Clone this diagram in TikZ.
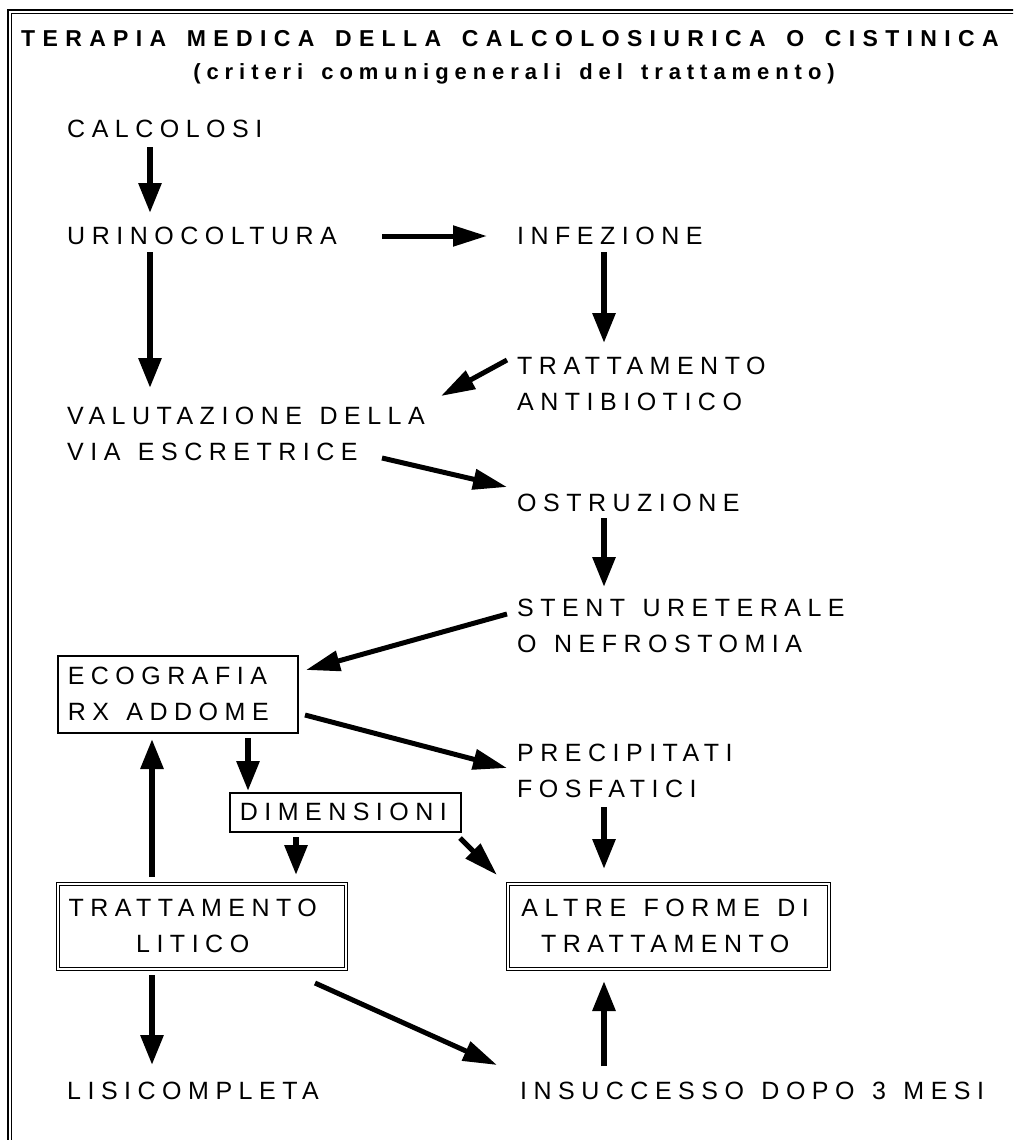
\documentclass[tikz,border=0pt]{standalone}
\usepackage{fontspec}
\setmainfont{Liberation Sans}
\newfontfamily\bodyfont[LetterSpace=26,WordSpace=1.3]{Liberation Sans}
\newfontfamily\headfont[LetterSpace=32,WordSpace=1.5]{Liberation Sans}
\newfontfamily\subheadfont[LetterSpace=27,WordSpace=1.5]{Liberation Sans}
\usetikzlibrary{arrows.meta,calc}

\begin{document}
\begin{tikzpicture}[x=1pt,y=-1pt,
  lbl/.style={inner sep=0pt, anchor=north west, align=left,
    font=\bodyfont\fontsize{25pt}{36pt}\selectfont},
  head/.style={inner sep=0pt, anchor=base,
    font=\headfont\bfseries\fontsize{23pt}{30pt}\selectfont},
  subhead/.style={head, font=\subheadfont\bfseries\fontsize{22pt}{30pt}\selectfont},
  box/.style={lbl, draw, line width=1.5pt, inner ysep=0pt, inner xsep=10pt},
  dbox/.style={lbl, draw, double, line width=1.4pt, double distance=1.6pt,
    inner sep=0pt, align=center},
  arr/.style={line width=6pt, -{Triangle[length=30pt,width=22pt]}},
  arrd/.style={line width=5pt, -{Triangle[length=34pt,width=20pt]}}
]
\useasboundingbox (0,0) rectangle (1013,1140);
\clip (0,0) rectangle (1013,1140);
\fill[white] (0,0) rectangle (1013,1140);

% page frame (double rule)
\draw[line width=2pt] (7.7,10) rectangle (1060,1190);
\draw[line width=1pt] (11.5,13.3) rectangle (1060,1190);

% heading
\node[head] (title) at (510,47) {TERAPIA MEDICA DELLA CALCOLOSIURICA O CISTINICA};
\node[subhead] (subtitle) at (514,80) {(criteri comunigenerali del trattamento)};

% flow steps
\node[lbl] (calc) at (67,120) {CALCOLOSI};
\node[lbl] (urino) at (67,227) {URINOCOLTURA};
\node[lbl] (infez) at (517,227) {INFEZIONE};
\node[lbl] (antib) at (517,357) {TRATTAMENTO\\ANTIBIOTICO};
\node[lbl] (valut) at (67,407) {VALUTAZIONE DELLA\\VIA ESCRETRICE};
\node[lbl] (ostr) at (517,494) {OSTRUZIONE};
\node[lbl] (stent) at (517,599) {STENT URETERALE\\O NEFROSTOMIA};
\node[box, minimum height=77pt] (eco) at (57,655)
      {\makebox[220pt][l]{ECOGRAFIA}\\RX ADDOME};
\node[lbl] (precip) at (517,744) {PRECIPITATI\\FOSFATICI};
\node[box, minimum height=39pt] (dim) at (229,792)
      {\makebox[211pt][l]{DIMENSIONI}};
\node[dbox, minimum width=288pt, minimum height=85pt] (litico) at (57,883)
      {TRATTAMENTO\hspace*{18pt}\\LITICO\hspace*{18pt}};
\node[dbox, minimum width=321pt, minimum height=85pt] (altre) at (507,883)
      {ALTRE FORME DI\hspace*{6pt}\\TRATTAMENTO\hspace*{6pt}};
\node[lbl] (lisi) at (67,1082) {LISICOMPLETA};
\node[lbl] (insucc) at (520,1082) {INSUCCESSO DOPO 3 MESI};

% connectors
\draw[arr]  ([shift={(83,27)}]calc.north west) -- ([shift={(83,-14)}]urino.north west);
\draw[arrd] ([shift={(315,9)}]urino.north west) -- ([shift={(-30,9)}]infez.north west);
\draw[arr]  ([shift={(87,25)}]infez.north west) -- ([shift={(87,-14)}]antib.north west);
\draw[arrd] ([shift={(-10,3)}]antib.north west) -- ([shift={(374,-11)}]valut.north west);
\draw[arr]  ([shift={(83,25)}]urino.north west) -- ([shift={(83,-19)}]valut.north west);
\draw[arrd] ([shift={(315,51)}]valut.north west) -- ([shift={(-10,-7)}]ostr.north west);
\draw[arr]  ([shift={(87,24)}]ostr.north west) -- ([shift={(87,-12)}]stent.north west);
\draw[arrd] ([shift={(-10,15)}]stent.north west) -- ([shift={(249,15)}]eco.north west);
\draw[arrd] ([shift={(248,60)}]eco.north west) -- ([shift={(-10,24)}]precip.north west);
\draw[arr]  ([shift={(191,83)}]eco.north west) -- ([shift={(19,-1)}]dim.north west);
\draw[arr]  ([shift={(67,45)}]dim.north west) -- ([shift={(239,-8)}]litico.north west);
\draw[arrd] ([shift={(231,46)}]dim.north west) -- ([shift={(-10,-8)}]altre.north west);
\draw[arr]  ([shift={(87,63)}]precip.north west) -- ([shift={(97,-14)}]altre.north west);
\draw[arr]  ([shift={(95,-6)}]litico.north west) -- ([shift={(95,84)}]eco.north west);
\draw[arr]  ([shift={(95,92)}]litico.north west) -- ([shift={(85,-17)}]lisi.north west);
\draw[arrd] ([shift={(258,100)}]litico.north west) -- ([shift={(-23,-17)}]insucc.north west);
\draw[arr]  ([shift={(84,-16)}]insucc.north west) -- ([shift={(97,98)}]altre.north west);
\end{tikzpicture}
\end{document}
